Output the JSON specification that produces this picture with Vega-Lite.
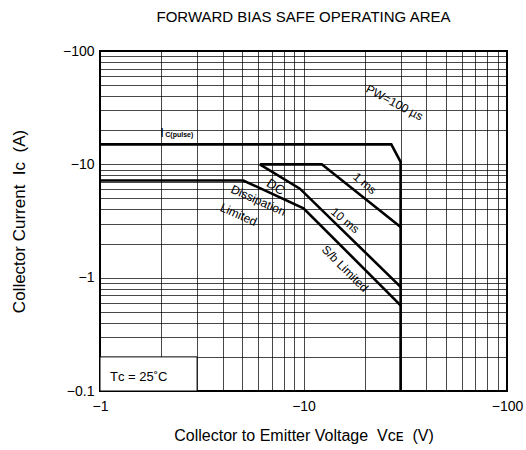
{
  "$schema": "https://vega.github.io/schema/vega-lite/v6.json",
  "width": 407,
  "height": 340,
  "autosize": {"type": "none"},
  "padding": {"left": 100, "top": 51, "right": 19, "bottom": 59},
  "background": "white",
  "title": {"text": "FORWARD BIAS SAFE OPERATING AREA", "fontSize": 15, "fontWeight": "normal", "font": "Liberation Sans", "anchor": "middle", "frame": "group", "offset": 19, "color": "black"},
  "config": {"view": {"stroke": "black", "strokeWidth": 2}, "font": "Liberation Sans"},
  "datasets": {
    "curves": [
      {"s": "pulse", "o": 1, "x": 1, "y": 15},
      {"s": "pulse", "o": 2, "x": 27, "y": 15},
      {"s": "pulse", "o": 3, "x": 30, "y": 10.5},
      {"s": "pulse", "o": 4, "x": 30, "y": 0.1},
      {"s": "ms1", "o": 1, "x": 6.1, "y": 10},
      {"s": "ms1", "o": 2, "x": 12.3, "y": 10},
      {"s": "ms1", "o": 3, "x": 30, "y": 2.8},
      {"s": "ms10", "o": 1, "x": 6.1, "y": 10},
      {"s": "ms10", "o": 2, "x": 9.6, "y": 6.1},
      {"s": "ms10", "o": 3, "x": 30, "y": 0.83},
      {"s": "dc", "o": 1, "x": 1, "y": 7.2},
      {"s": "dc", "o": 2, "x": 5.06, "y": 7.2},
      {"s": "dc", "o": 3, "x": 10, "y": 4.1},
      {"s": "dc", "o": 4, "x": 30, "y": 0.57}
    ],
    "labels": [
      {"t": "PW=100 µs", "x": 28, "y": 35},
      {"t": "1 ms", "x": 20, "y": 6.8},
      {"t": "DC", "x": 7.3, "y": 6.3},
      {"t": "Dissipation", "x": 6.0, "y": 4.8},
      {"t": "Limited", "x": 4.8, "y": 3.6},
      {"t": "10 ms", "x": 16, "y": 3.2},
      {"t": "S/b Limited", "x": 16, "y": 1.2},
      {"t": "I", "x": 2.0, "y": 19},
      {"t": "C(pulse)", "x": 2.0, "y": 19},
      {"t": "Tᴄ = 25˚C", "x": 1.12, "y": 0.133}
    ],
    "box": [{"x": 1, "x2": 3, "y": 0.1, "y2": 0.2}]
  },
  "encoding": {
    "x": {
      "field": "x", "type": "quantitative",
      "scale": {"type": "log", "domain": [1, 100], "nice": false},
      "axis": {
        "title": "Collector to Emitter Voltage\u00a0 Vᴄᴇ\u00a0 (V)",
        "titleFontSize": 16, "titleFontWeight": "normal", "titleColor": "black", "titlePadding": 14,
        "values": [1, 2, 3, 4, 5, 6, 7, 8, 9, 10, 20, 30, 40, 50, 60, 70, 80, 90, 100],
        "labelExpr": "indexof([1, 10, 100], datum.value) >= 0 ? '−' + datum.value : ''",
        "labelFontSize": 14, "labelColor": "black", "labelFlush": false, "labelPadding": 8,
        "ticks": false, "domain": false,
        "grid": true, "gridColor": "black", "gridWidth": 0.8, "gridOpacity": 0.9
      }
    },
    "y": {
      "field": "y", "type": "quantitative",
      "scale": {"type": "log", "domain": [0.1, 100], "nice": false},
      "axis": {
        "title": "Collector Current\u00a0 Iᴄ\u00a0 (A)",
        "titleFontSize": 17, "titleFontWeight": "normal", "titleColor": "black", "titlePadding": 34,
        "values": [0.1, 0.2, 0.3, 0.4, 0.5, 0.6, 0.7, 0.8, 0.9, 1, 2, 3, 4, 5, 6, 7, 8, 9, 10, 20, 30, 40, 50, 60, 70, 80, 90, 100],
        "labelExpr": "indexof([0.1, 1, 10, 100], datum.value) >= 0 ? '−' + datum.value : ''",
        "labelFontSize": 14, "labelColor": "black", "labelFlush": false, "labelPadding": 6,
        "ticks": false, "domain": false,
        "grid": true, "gridColor": "black", "gridWidth": 0.8, "gridOpacity": 0.9
      }
    }
  },
  "layer": [
    {
      "data": {"name": "box"},
      "mark": {"type": "rect", "fill": "white", "stroke": "black", "strokeWidth": 1},
      "encoding": {"x2": {"field": "x2"}, "y2": {"field": "y2"}}
    },
    {
      "data": {"name": "curves"},
      "mark": {"type": "line", "color": "black", "strokeWidth": 2.6, "strokeJoin": "miter"},
      "encoding": {
        "detail": {"field": "s", "type": "nominal"},
        "order": {"field": "o", "type": "quantitative"}
      }
    },
    {
      "data": {"name": "labels"},
      "transform": [{"filter": "datum.t == 'PW=100 µs'"}],
      "mark": {"type": "text", "angle": 28, "fontSize": 12, "color": "black"},
      "encoding": {"text": {"field": "t"}}
    },
    {
      "data": {"name": "labels"},
      "transform": [{"filter": "datum.t == '1 ms' || datum.t == '10 ms'"}],
      "mark": {"type": "text", "angle": 40, "fontSize": 12, "color": "black"},
      "encoding": {"text": {"field": "t"}}
    },
    {
      "data": {"name": "labels"},
      "transform": [{"filter": "datum.t == 'DC'"}],
      "mark": {"type": "text", "angle": 32, "fontSize": 13, "color": "black"},
      "encoding": {"text": {"field": "t"}}
    },
    {
      "data": {"name": "labels"},
      "transform": [{"filter": "datum.t == 'Dissipation' || datum.t == 'Limited'"}],
      "mark": {"type": "text", "angle": 24, "fontSize": 12, "color": "black"},
      "encoding": {"text": {"field": "t"}}
    },
    {
      "data": {"name": "labels"},
      "transform": [{"filter": "datum.t == 'S/b Limited'"}],
      "mark": {"type": "text", "angle": 45, "fontSize": 12, "color": "black"},
      "encoding": {"text": {"field": "t"}}
    },
    {
      "data": {"name": "labels"},
      "transform": [{"filter": "datum.t == 'I'"}],
      "mark": {"type": "text", "align": "left", "fontSize": 13, "color": "black", "dx": -1},
      "encoding": {"text": {"field": "t"}}
    },
    {
      "data": {"name": "labels"},
      "transform": [{"filter": "datum.t == 'C(pulse)'"}],
      "mark": {"type": "text", "align": "left", "fontSize": 7, "fontWeight": "bold", "color": "black", "dx": 4, "dy": 2},
      "encoding": {"text": {"field": "t"}}
    },
    {
      "data": {"name": "labels"},
      "transform": [{"filter": "datum.t == 'Tᴄ = 25˚C'"}],
      "mark": {"type": "text", "align": "left", "fontSize": 13, "color": "black"},
      "encoding": {"text": {"field": "t"}}
    }
  ]
}
